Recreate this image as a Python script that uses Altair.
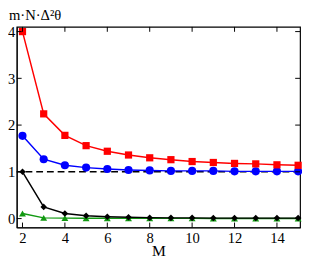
import altair as alt
import pandas as pd

M = list(range(2, 16))
red = [4.0, 2.24, 1.78, 1.56, 1.44, 1.36, 1.30, 1.26, 1.22, 1.20, 1.18, 1.17, 1.15, 1.14]
blue = [1.77, 1.27, 1.14, 1.09, 1.06, 1.04, 1.03, 1.02, 1.02, 1.02, 1.01, 1.01, 1.01, 1.01]
black = [1.0, 0.25, 0.11, 0.06, 0.04, 0.03, 0.02, 0.015, 0.015, 0.01, 0.01, 0.01, 0.01, 0.01]
green = [0.11, 0.015, 0.01, 0.008, 0.006, 0.005, 0.005, 0.004, 0.004, 0.003, 0.003, 0.003, 0.003, 0.003]

x_ticks = [2, 4, 6, 8, 10, 12, 14]
y_ticks = [0, 1, 2, 3, 4]

W, H = 291, 206
FONT = "Liberation Serif"

xs = alt.Scale(domain=[1.73, 15.09], nice=False, zero=False)
ys = alt.Scale(domain=[-0.19, 4.1], nice=False, zero=False)

df = pd.DataFrame({"M": M, "red": red, "blue": blue, "black": black, "green": green})

x_axis = alt.Axis(values=x_ticks, title="M")
y_axis = alt.Axis(values=y_ticks, title=None)

base = alt.Chart(df)

def series(col, color, shape, size):
    line = base.mark_line(color=color, strokeWidth=1.5).encode(
        x=alt.X("M:Q", scale=xs, axis=x_axis),
        y=alt.Y(f"{col}:Q", scale=ys, axis=y_axis),
    )
    pts = base.mark_point(color=color, fill=color, filled=True, shape=shape,
                          size=size, opacity=1).encode(
        x=alt.X("M:Q", scale=xs, axis=x_axis),
        y=alt.Y(f"{col}:Q", scale=ys, axis=y_axis),
    )
    return line + pts

dash = alt.Chart(pd.DataFrame({"v": [1]})).mark_rule(
    color="black", strokeDash=[7, 4], strokeWidth=1.5
).encode(y=alt.Y("v:Q", scale=ys, axis=y_axis))

xt = pd.DataFrame({"t": x_ticks})
yt = pd.DataFrame({"t": y_ticks})
tick_bottom = alt.Chart(xt).mark_rule(color="black", strokeWidth=1).encode(
    x=alt.X("t:Q", scale=xs, axis=x_axis), y=alt.value(H), y2=alt.value(H - 5))
tick_top = alt.Chart(xt).mark_rule(color="black", strokeWidth=1).encode(
    x=alt.X("t:Q", scale=xs, axis=x_axis), y=alt.value(0), y2=alt.value(5))
tick_left = alt.Chart(yt).mark_rule(color="black", strokeWidth=1).encode(
    y=alt.Y("t:Q", scale=ys, axis=y_axis), x=alt.value(0), x2=alt.value(5))
tick_right = alt.Chart(yt).mark_rule(color="black", strokeWidth=1).encode(
    y=alt.Y("t:Q", scale=ys, axis=y_axis), x=alt.value(W), x2=alt.value(W - 5))

chart = alt.layer(
    dash,
    series("green", "#119911", "triangle-up", 50),
    series("black", "black", "diamond", 45),
    series("blue", "#0000ff", "circle", 70),
    series("red", "#ff0000", "square", 55),
    tick_bottom, tick_top, tick_left, tick_right,
).properties(
    width=W, height=H,
    background="white",
    title=alt.TitleParams("m·N·Δ²θ", anchor="start", frame="group", font=FONT,
                          fontSize=15, fontWeight="normal", color="black",
                          offset=2, dx=-8),
    autosize=alt.AutoSizeParams(type="none"),
    padding={"left": 9, "top": 16, "right": 2, "bottom": 30},
).configure_axis(
    ticks=False, grid=False, labelFont=FONT, labelFontSize=15, labelColor="black",
    titleFont=FONT, titleFontSize=16, titleFontWeight="normal", titleColor="black",
    domainColor="black", labelFlush=False, labelPadding=2,
).configure_axisX(titlePadding=-2, labelPadding=3).configure_view(
    stroke="black", strokeWidth=1.2
)

chart.save("out.html", embed_options={"renderer": "svg", "actions": False})
